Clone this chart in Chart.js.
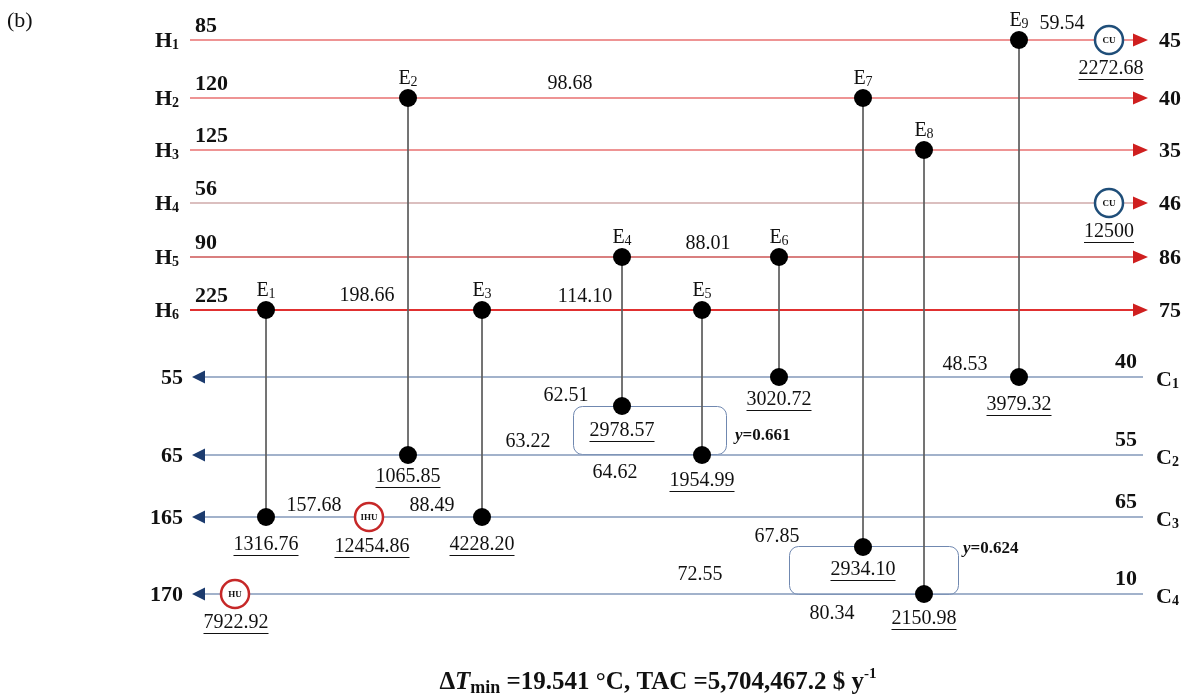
<!DOCTYPE html>
<html>
<head>
<meta charset="utf-8">
<script src="https://cdn.jsdelivr.net/npm/chart.js@4.4.0/dist/chart.umd.min.js"></script>
<style>
  html, body { margin: 0; padding: 0; background: #fff; }
  canvas { display: block; }
</style>
</head>
<body>
<canvas id="hen" width="1184" height="700"></canvas>
<script>
// ---- stream data ----
const hotNames = ['H1', 'H2', 'H3', 'H4', 'H5', 'H6'];
const hotIn = [85, 120, 125, 56, 90, 225];
const hotOut = [45, 40, 35, 46, 86, 75];
const coldNames = ['C1', 'C2', 'C3', 'C4'];
const coldIn = [40, 55, 65, 10];
const coldOut = [55, 65, 165, 170];

// ---- exchangers (hot side, cold side, duty) ----
const exNames = ['E1', 'E2', 'E3', 'E4', 'E5', 'E6', 'E7', 'E8', 'E9'];
const exHot = ['H6', 'H2', 'H6', 'H5', 'H6', 'H5', 'H2', 'H3', 'H1'];
const exCold = ['C3', 'C2', 'C3', 'C2s', 'C2', 'C1', 'C4s', 'C4', 'C1'];
const exDuty = ['1316.76', '1065.85', '4228.20', '2978.57', '1954.99', '3020.72', '2934.10', '2150.98', '3979.32'];

// ---- utilities ----
const utilNames = ['CU', 'CU', 'IHU', 'HU'];
const utilStream = ['H1', 'H4', 'C3', 'C4'];
const utilDuty = ['2272.68', '12500', '12454.86', '7922.92'];

// ---- intermediate temperatures ----
const midTemps = ['59.54', '98.68', '88.01', '198.66', '114.10', '48.53', '62.51', '63.22', '64.62', '157.68', '88.49', '67.85', '72.55', '80.34'];

// ---- stream splits ----
const splitFrac = ['0.661', '0.624'];

// ---- layout (scale units) ----
const lane = { H1: 40, H2: 98, H3: 150, H4: 203, H5: 257, H6: 310, C1: 377, C2: 455, C3: 517, C4: 594, C2s: 406, C4s: 547 };
const exX = [266, 408, 482, 622, 702, 779, 863, 924, 1019];
const dutyDy = [28, 22, 28, 25, 26, 23, 23, 25, 28];
const utilX = [1109, 1109, 369, 235];
const utilLabelPos = [[1111, 69], [1109, 232], [372, 547], [236, 623]];
const midTempPos = [[1062, 24], [570, 84], [708, 244], [367, 296], [585, 297], [965, 365], [566, 396], [528, 442], [615, 473], [314, 506], [432, 506], [777, 537], [700, 575], [832, 614]];
const splitBox = [[573, 406, 726, 454], [789, 546, 958, 594]];
const splitLabelPos = [[735, 436], [963, 549]];
const hotStartX = 190, hotEndX = 1135, coldStartX = 1143, coldEndX = 205;

const hotColors = ['#e87070', '#e87070', '#e87070', '#b88080', '#cc5555', '#e03030'];
const hotWidths = [1.5, 1.5, 1.5, 1.2, 1.5, 2.2];
const coldColor = '#8398ba';
const SERIF = '"Liberation Serif", "Times New Roman", serif';

const datasets = [];
// exchanger dots (drawn on top)
const dots = [];
exNames.forEach((n, i) => {
  dots.push({ x: exX[i], y: lane[exHot[i]] });
  dots.push({ x: exX[i], y: lane[exCold[i]] });
});
datasets.push({ data: dots, pointRadius: 9, pointBackgroundColor: '#000', pointBorderWidth: 0, showLine: false });
// utility circles
datasets.push({
  data: utilNames.map((n, i) => ({ x: utilX[i], y: lane[utilStream[i]] })),
  pointRadius: 14, pointBackgroundColor: '#fff', pointBorderWidth: 2.5,
  pointBorderColor: utilNames.map(n => n === 'CU' ? '#1f4e79' : '#c62828'), showLine: false
});
// connecting lines
exNames.forEach((n, i) => {
  datasets.push({
    data: [{ x: exX[i], y: lane[exHot[i]] }, { x: exX[i], y: lane[exCold[i]] }],
    showLine: true, borderColor: '#606060', borderWidth: 1, pointRadius: 0
  });
});
// hot streams
hotNames.forEach((n, i) => {
  datasets.push({
    data: [{ x: hotStartX, y: lane[n] }, { x: hotEndX, y: lane[n] }],
    showLine: true, borderColor: hotColors[i], borderWidth: hotWidths[i], pointRadius: 0
  });
});
// cold streams
coldNames.forEach((n, i) => {
  datasets.push({
    data: [{ x: coldStartX, y: lane[n] }, { x: coldEndX, y: lane[n] }],
    showLine: true, borderColor: coldColor, borderWidth: 1.5, pointRadius: 0
  });
});

function drawParts(ctx, parts, x, y, align, underline) {
  let w = 0;
  parts.forEach(p => { ctx.font = p.font; p.w = ctx.measureText(p.t).width; w += p.w; });
  let left = align === 'center' ? x - w / 2 : align === 'right' ? x - w : x;
  ctx.textAlign = 'left';
  ctx.textBaseline = 'middle';
  let cx = left;
  parts.forEach(p => {
    ctx.font = p.font;
    ctx.fillText(p.t, cx, y + (p.dy || 0));
    cx += p.w;
  });
  if (underline) {
    ctx.beginPath();
    ctx.lineWidth = 1;
    ctx.strokeStyle = ctx.fillStyle;
    ctx.moveTo(left, y + underline + 0.5);
    ctx.lineTo(left + w, y + underline + 0.5);
    ctx.stroke();
  }
}
function withSub(name, font, subFont, dy) {
  return [{ t: name[0], font: font }, { t: name.slice(1), font: subFont, dy: dy }];
}

const henPlugin = {
  id: 'henText',
  beforeDatasetsDraw(chart) {
    const ctx = chart.ctx, xs = chart.scales.x, ys = chart.scales.y;
    ctx.save();
    ctx.strokeStyle = '#7088b0';
    ctx.lineWidth = 1;
    splitBox.forEach(b => {
      const x0 = xs.getPixelForValue(b[0]), y0 = ys.getPixelForValue(b[1]);
      const x1 = xs.getPixelForValue(b[2]), y1 = ys.getPixelForValue(b[3]);
      ctx.beginPath();
      ctx.roundRect(x0 + 0.5, y0 + 0.5, x1 - x0, y1 - y0, 9);
      ctx.stroke();
    });
    ctx.restore();
  },
  afterDatasetsDraw(chart) {
    const ctx = chart.ctx, xs = chart.scales.x, ys = chart.scales.y;
    const px = v => xs.getPixelForValue(v), py = v => ys.getPixelForValue(v);
    ctx.save();
    // arrow heads
    hotNames.forEach(n => {
      const x = px(hotEndX), y = py(lane[n]);
      ctx.fillStyle = '#cf1f1f';
      ctx.beginPath();
      ctx.moveTo(x - 2, y - 6.5); ctx.lineTo(x + 13, y); ctx.lineTo(x - 2, y + 6.5); ctx.closePath(); ctx.fill();
    });
    coldNames.forEach(n => {
      const x = px(coldEndX), y = py(lane[n]);
      ctx.fillStyle = '#1c3b6e';
      ctx.beginPath();
      ctx.moveTo(x, y - 6.5); ctx.lineTo(x - 13, y); ctx.lineTo(x, y + 6.5); ctx.closePath(); ctx.fill();
    });
    ctx.fillStyle = '#111';
    const B = 'bold 22px ' + SERIF, BS = 'bold 14px ' + SERIF;
    const R = '20px ' + SERIF, RS = '14px ' + SERIF;
    // hot stream labels and temperatures
    hotNames.forEach((n, i) => {
      const y = py(lane[n]);
      drawParts(ctx, withSub(n, B, BS, 4), px(179), y + 1, 'right');
      drawParts(ctx, [{ t: String(hotIn[i]), font: B }], px(195), y - 14, 'left');
      drawParts(ctx, [{ t: String(hotOut[i]), font: B }], px(1159), y + 1, 'left');
    });
    // cold stream labels and temperatures
    coldNames.forEach((n, i) => {
      const y = py(lane[n]);
      drawParts(ctx, withSub(n, B, BS, 4), px(1156), y + 3, 'left');
      drawParts(ctx, [{ t: String(coldIn[i]), font: B }], px(1137), y - 15, 'right');
      drawParts(ctx, [{ t: String(coldOut[i]), font: B }], px(183), y + 1, 'right');
    });
    // exchanger names and duties
    exNames.forEach((n, i) => {
      const x = px(exX[i]);
      drawParts(ctx, withSub(n, R, RS, 3), x, py(lane[exHot[i]] - 19), 'center');
      drawParts(ctx, [{ t: exDuty[i], font: R }], x, py(lane[exCold[i]] + dutyDy[i]), 'center', 10);
    });
    // intermediate temperatures
    midTemps.forEach((t, i) => {
      drawParts(ctx, [{ t: t, font: R }], px(midTempPos[i][0]), py(midTempPos[i][1]), 'center');
    });
    // utilities
    utilNames.forEach((n, i) => {
      const x = px(utilX[i]), y = py(lane[utilStream[i]]);
      drawParts(ctx, [{ t: n, font: 'bold 9px ' + SERIF }], x, y + 1, 'center');
      drawParts(ctx, [{ t: utilDuty[i], font: R }], px(utilLabelPos[i][0]), py(utilLabelPos[i][1]), 'center', 10);
    });
    // split fractions
    splitFrac.forEach((f, i) => {
      drawParts(ctx, [{ t: 'y', font: 'italic bold 17px ' + SERIF }, { t: '=' + f, font: 'bold 17px ' + SERIF }],
        px(splitLabelPos[i][0]), py(splitLabelPos[i][1]), 'left');
    });
    // panel tag and caption
    drawParts(ctx, [{ t: '(b)', font: '22px ' + SERIF }], 7, 21, 'left');
    drawParts(ctx, [
      { t: '\u0394', font: 'bold 25px ' + SERIF },
      { t: 'T', font: 'italic bold 25px ' + SERIF },
      { t: 'min', font: 'bold 18px ' + SERIF, dy: 5 },
      { t: ' =19.541 \u00B0C, TAC =5,704,467.2 $ y', font: 'bold 25px ' + SERIF },
      { t: '-1', font: 'bold 15px ' + SERIF, dy: -9 }
    ], chart.width / 2 + 66, 683, 'center');
    ctx.restore();
  }
};

new Chart(document.getElementById('hen'), {
  type: 'scatter',
  data: { datasets: datasets },
  options: {
    responsive: false,
    animation: false,
    layout: { padding: 0, autoPadding: false },
    plugins: { legend: { display: false }, tooltip: { enabled: false } },
    scales: {
      x: { type: 'linear', min: 0, max: 1184, display: false },
      y: { type: 'linear', min: 0, max: 700, reverse: true, display: false }
    }
  },
  plugins: [henPlugin]
});
</script>
</body>
</html>
